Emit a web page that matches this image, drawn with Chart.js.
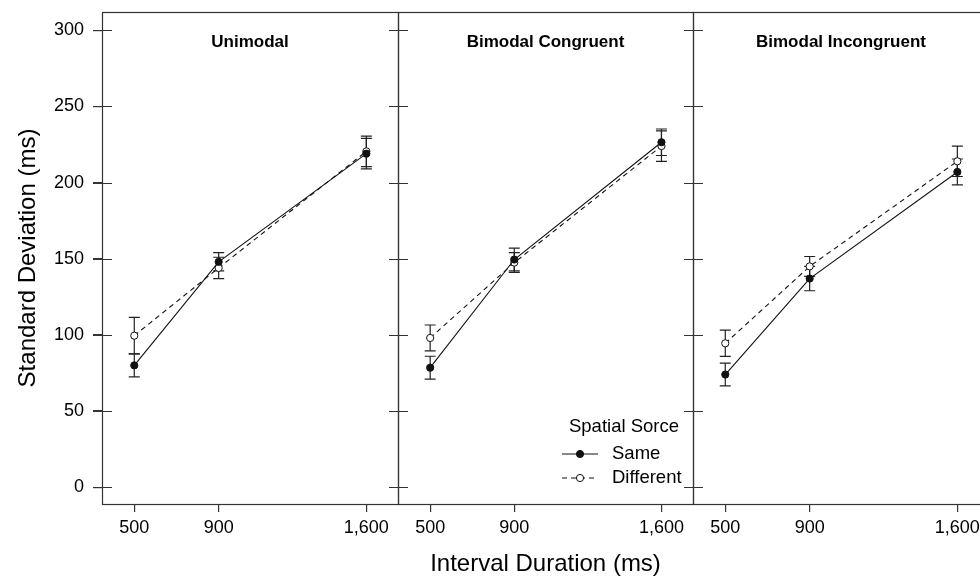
<!DOCTYPE html>
<html>
<head>
<meta charset="utf-8">
<script src="https://cdn.jsdelivr.net/npm/chart.js@4.4.0/dist/chart.umd.min.js"></script>
<style>
html,body{margin:0;padding:0;background:#fff;overflow:hidden;}
#wrap{position:relative;width:1000px;height:579px;overflow:hidden;}
#wrap canvas{position:absolute;left:0;top:0;}
</style>
</head>
<body>
<div id="wrap">
<canvas id="c0" width="1000" height="579"></canvas>
<canvas id="c1" width="1000" height="579"></canvas>
<canvas id="c2" width="1000" height="579"></canvas>
</div>
<script>
// ---- data ----
const durations = [500, 900, 1600];
const yTicks = [0, 50, 100, 150, 200, 250, 300];
const panelTitles = ['Unimodal', 'Bimodal Congruent', 'Bimodal Incongruent'];
const seriesNames = ['Same', 'Different'];
const legendTitle = 'Spatial Sorce';
const yTitle = 'Standard Deviation (ms)';
const xTitle = 'Interval Duration (ms)';

const unimodalSame = [80, 148, 219];
const unimodalSameErr = [7.5, 6, 10];
const unimodalDiff = [99.5, 144, 220.5];
const unimodalDiffErr = [12, 7, 10];

const congruentSame = [78.5, 149.5, 226.5];
const congruentSameErr = [7.5, 7.5, 8.7];
const congruentDiff = [98, 147.5, 224];
const congruentDiffErr = [8.5, 6.5, 10];

const incongruentSame = [74, 137, 207];
const incongruentSameErr = [7.5, 8, 8.5];
const incongruentDiff = [94.5, 145, 214];
const incongruentDiffErr = [8.6, 6.5, 10];

// ---- style ----
const FONT = '"Liberation Sans", Arial, Helvetica, sans-serif';
const AX = '#333';
const INK = '#111';
const panelEdges = [[102, 398], [398, 693], [693, 989]];

const errorBars = {
  id: 'errorBars',
  beforeDatasetsDraw(chart) {
    const ctx = chart.ctx, xs = chart.scales.x, ys = chart.scales.y;
    ctx.save();
    ctx.strokeStyle = '#222';
    ctx.lineWidth = 1.2;
    chart.data.datasets.forEach(ds => {
      ds.data.forEach((p, i) => {
        const e = ds.errors[i];
        const px = xs.getPixelForValue(p.x);
        const y1 = ys.getPixelForValue(p.y + e), y2 = ys.getPixelForValue(p.y - e);
        ctx.beginPath();
        ctx.moveTo(px, y1); ctx.lineTo(px, y2);
        ctx.moveTo(px - 5.5, y1); ctx.lineTo(px + 5.5, y1);
        ctx.moveTo(px - 5.5, y2); ctx.lineTo(px + 5.5, y2);
        ctx.stroke();
      });
    });
    ctx.restore();
  }
};

const frame = {
  id: 'frame',
  afterDraw(chart, args, opts) {
    const ctx = chart.ctx, a = chart.chartArea, ys = chart.scales.y;
    ctx.save();
    ctx.strokeStyle = AX;
    ctx.lineWidth = 1.2;
    ctx.strokeRect(a.left + 0.5, a.top + 0.5, a.right - a.left, a.bottom - a.top);
    ctx.beginPath();
    yTicks.forEach(v => {
      const py = Math.round(ys.getPixelForValue(v)) + 0.5;
      ctx.moveTo(a.left - 9, py); ctx.lineTo(a.left + 10, py);
    });
    ctx.stroke();
    ctx.fillStyle = '#000';
    ctx.font = 'bold 17px ' + FONT;
    ctx.textAlign = 'center';
    ctx.textBaseline = 'middle';
    ctx.fillText(opts.title, (a.left + a.right) / 2, 42);
    if (opts.legend) {
      const ds = chart.data.datasets;
      const cx = a.right - 113;
      ctx.font = '18.5px ' + FONT;
      ctx.fillText(legendTitle, a.right - 69, 427);
      const rows = [454, 478];
      ds.forEach((d, i) => {
        const ry = rows[i];
        ctx.strokeStyle = d.borderColor;
        ctx.lineWidth = d.borderWidth;
        ctx.setLineDash(d.borderDash || []);
        ctx.beginPath();
        ctx.moveTo(cx - 18, ry); ctx.lineTo(cx + 18, ry);
        ctx.stroke();
        ctx.setLineDash([]);
        ctx.beginPath();
        ctx.arc(cx, ry, d.pointRadius, 0, Math.PI * 2);
        ctx.fillStyle = d.pointBackgroundColor;
        ctx.fill();
        ctx.lineWidth = d.pointBorderWidth;
        ctx.strokeStyle = d.pointBorderColor;
        ctx.stroke();
        ctx.fillStyle = '#000';
        ctx.textAlign = 'left';
        ctx.fillText(seriesNames[i], a.right - 81, ry);
      });
    }
    ctx.restore();
  }
};

function toPts(vals) { return durations.map((d, i) => ({ x: d, y: vals[i] })); }

function noPad(s) { s.paddingTop = 0; s.paddingBottom = 0; s.paddingLeft = 0; s.paddingRight = 0; }

function makeChart(id, idx, same, sameErr, diff, diffErr) {
  const [L, R] = panelEdges[idx];
  const first = idx === 0;
  return new Chart(document.getElementById(id), {
    type: 'line',
    data: {
      datasets: [
        {
          label: seriesNames[0], data: toPts(same), errors: sameErr,
          borderColor: INK, borderWidth: 1.1, tension: 0,
          pointRadius: 3.6, pointBackgroundColor: INK, pointBorderColor: INK, pointBorderWidth: 1
        },
        {
          label: seriesNames[1], data: toPts(diff), errors: diffErr,
          borderColor: INK, borderWidth: 1.1, borderDash: [5, 4], tension: 0,
          pointRadius: 3.6, pointBackgroundColor: '#fff', pointBorderColor: INK, pointBorderWidth: 1
        }
      ]
    },
    options: {
      responsive: false,
      animation: false,
      devicePixelRatio: 1,
      layout: { padding: { left: first ? 0 : L, right: 1000 - R, top: 12, bottom: 0 } },
      plugins: {
        legend: { display: false },
        tooltip: { enabled: false },
        frame: { title: panelTitles[idx], legend: idx === 1 }
      },
      scales: {
        x: {
          type: 'linear', min: 347, max: 1750,
          afterBuildTicks: s => { s.ticks = durations.map(v => ({ value: v })); },
          afterFit: s => { s.height = 75; noPad(s); },
          grid: { display: true, drawOnChartArea: false, drawTicks: true, tickLength: 8, color: AX, lineWidth: 1.2 },
          border: { display: false },
          ticks: {
            padding: 5, color: '#000', font: { family: FONT, size: 18 }, maxRotation: 0,
            callback: v => Number(v).toLocaleString('en-US')
          },
          title: {
            display: idx === 1, text: xTitle, color: '#000',
            font: { family: FONT, size: 24 }, padding: { top: 0, bottom: 0 }
          }
        },
        y: {
          display: first,
          min: -11, max: 312,
          afterBuildTicks: s => { s.ticks = yTicks.map(v => ({ value: v })); },
          afterFit: s => { s.width = first ? 102 : 0; noPad(s); },
          grid: { display: true, drawOnChartArea: false, drawTicks: true, tickLength: 9, color: AX, lineWidth: 1.2 },
          border: { display: false },
          ticks: { padding: 9, color: '#000', font: { family: FONT, size: 18 } },
          title: {
            display: first, text: yTitle, color: '#000',
            font: { family: FONT, size: 24 }, padding: { top: 14, bottom: 0 }
          }
        }
      }
    },
    plugins: [errorBars, frame]
  });
}

makeChart('c0', 0, unimodalSame, unimodalSameErr, unimodalDiff, unimodalDiffErr);
makeChart('c1', 1, congruentSame, congruentSameErr, congruentDiff, congruentDiffErr);
makeChart('c2', 2, incongruentSame, incongruentSameErr, incongruentDiff, incongruentDiffErr);
</script>
</body>
</html>
